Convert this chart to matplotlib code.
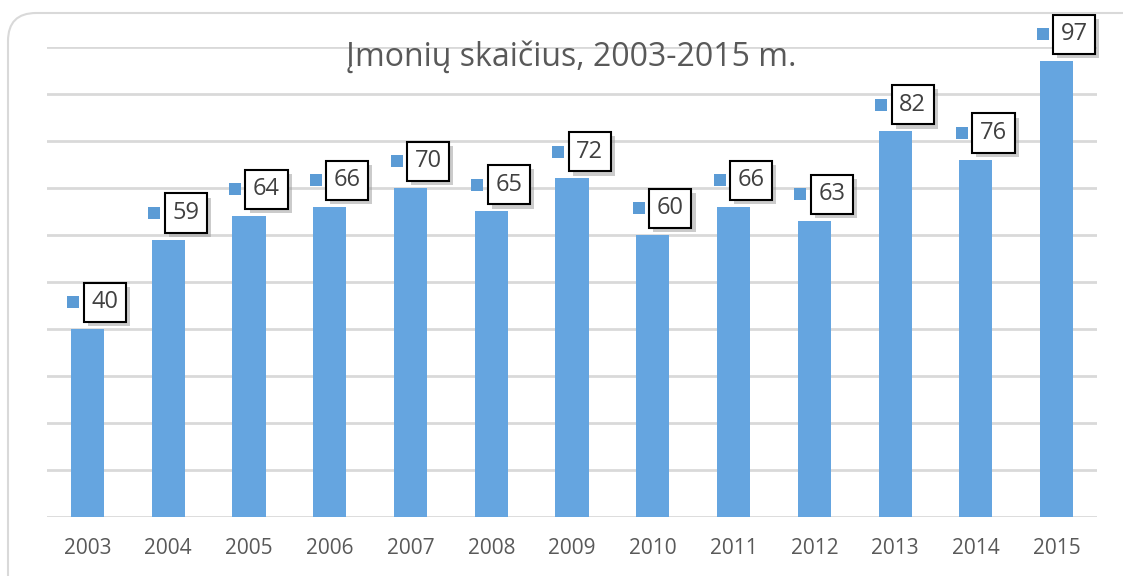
import matplotlib
matplotlib.use('Agg')
import matplotlib.pyplot as plt
import matplotlib.patheffects as pe
import matplotlib.transforms as mtransforms
from matplotlib.patches import FancyBboxPatch
import numpy as np

years = ['2003', '2004', '2005', '2006', '2007', '2008', '2009',
         '2010', '2011', '2012', '2013', '2014', '2015']
counts = [40, 59, 64, 66, 70, 65, 72, 60, 66, 63, 82, 76, 97]
title = 'Įmonių skaičius, 2003-2015 m.'

bar_color = '#65A5E0'
key_color = '#5B9BD5'
grid_color = '#D9D9D9'
text_color = '#595959'

plt.rcParams['font.family'] = ['Open Sans', 'DejaVu Sans']

fig = plt.figure(figsize=(11.23, 5.76), dpi=100)
ax = fig.add_axes([0.0419, 0.1024, 0.935, 0.8166])

# rounded chart frame, cut off at right and bottom like the screenshot
frame = FancyBboxPatch((8 / 1123, -0.2), 1.2, 1 - 13 / 576 + 0.2,
                       boxstyle='round,pad=0,rounding_size=0.025',
                       transform=fig.transFigure, facecolor='none',
                       edgecolor=grid_color, linewidth=1.5,
                       mutation_aspect=1123 / 576)
fig.patches.append(frame)

x = np.arange(len(years))
ax.bar(x, counts, width=0.41, color=bar_color, zorder=2)

ax.set_xlim(-0.5, len(years) - 0.5)
ax.set_ylim(0, 100)
ax.set_yticks(np.arange(0, 101, 10))
ax.yaxis.grid(True, color=grid_color, linewidth=2)
ax.set_axisbelow(True)
ax.tick_params(axis='y', left=False, labelleft=False)
ax.set_xticks(x)
ax.set_xticklabels(years, fontsize=15, color=text_color)
ax.tick_params(axis='x', length=0, pad=15)
for s in ax.spines.values():
    s.set_visible(False)

# data labels: boxed value with a legend key square to its left
key_tr = mtransforms.offset_copy(ax.transData, fig=fig, x=-14, y=26.5, units='dots')
ax.scatter(x, counts, marker='s', s=80, color=key_color, transform=key_tr,
           zorder=3, linewidths=0, clip_on=False)
for i, v in enumerate(counts):
    t = ax.annotate(str(v), (i, v), xytext=(17.5, 26.5), textcoords='offset pixels',
                    ha='center', va='center', fontsize=17, color='#404040',
                    bbox=dict(boxstyle='square,pad=0.32', facecolor='white',
                              edgecolor='black', linewidth=1.5),
                    zorder=4, annotation_clip=False)
    t.get_bbox_patch().set_path_effects([
        pe.SimplePatchShadow(offset=(3, -3), shadow_rgbFace='#999999', alpha=0.5),
        pe.Normal()])

fig.text(0.509, 1 - 57 / 576, title, ha='center', va='center',
         fontsize=23, color=text_color)

fig.savefig('out.png', dpi=100)
